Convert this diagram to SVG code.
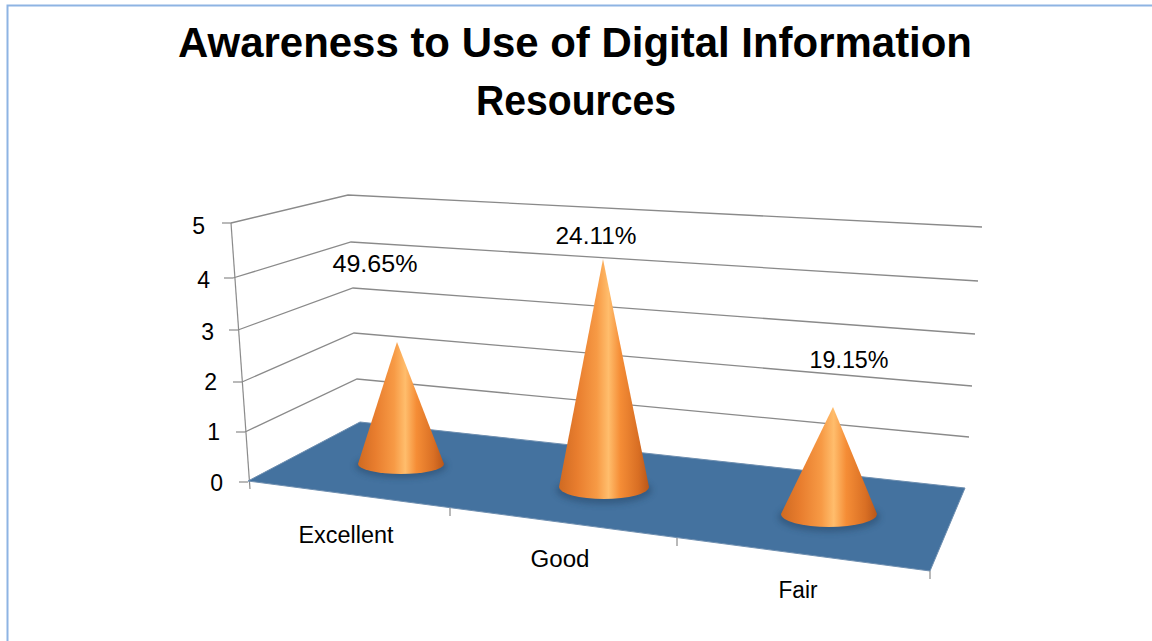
<svg xmlns="http://www.w3.org/2000/svg" width="1152" height="641" viewBox="0 0 1152 641">
<style>
.t{font-family:"Liberation Sans",Arial,sans-serif;fill:#000}
.title{font-size:42px;font-weight:bold}
.lbl{font-size:23px}
.ax{font-size:23px;text-anchor:end}
.grid{stroke:#8a8a8a;stroke-width:1.3;fill:none}
.tick{stroke:#8a8a8a;stroke-width:1.2;fill:none}
.cone{fill:url(#coneGrad)}
</style>
<defs>
<linearGradient id="coneGrad" x1="0" y1="0" x2="1" y2="0">
<stop offset="0" stop-color="#cf6a22"/>
<stop offset="0.2" stop-color="#e87d2e"/>
<stop offset="0.42" stop-color="#f79a45"/>
<stop offset="0.55" stop-color="#ffbd6c"/>
<stop offset="0.68" stop-color="#f58d36"/>
<stop offset="0.88" stop-color="#d96f24"/>
<stop offset="1" stop-color="#b9571a"/>
</linearGradient>
<filter id="shadow" x="-30%" y="-80%" width="160%" height="260%">
<feGaussianBlur stdDeviation="3"/>
</filter>
</defs>
<rect width="1152" height="641" fill="#fff"/>
<path d="M7.5 641 V5.5 H1152" fill="none" stroke="#8eb4e3" stroke-width="2"/>

<g id="title">
<text class="t title" x="575" y="57" text-anchor="middle" textLength="794" lengthAdjust="spacingAndGlyphs">Awareness to Use of Digital Information</text>
<text class="t title" x="576" y="115" text-anchor="middle" textLength="200" lengthAdjust="spacingAndGlyphs">Resources</text>
</g>

<g id="gridlines">
<polyline class="grid" points="231,223 348,195 982,227"/>
<polyline class="grid" points="233,278 351,242 978,281"/>
<polyline class="grid" points="238,330 353,288 975,334"/>
<polyline class="grid" points="242,382 354,333 972,386"/>
<polyline class="grid" points="245,432 357,379 969,437"/>
</g>

<g id="axes">
<line class="tick" x1="231" y1="223" x2="250" y2="489"/>
<line class="tick" x1="222" y1="223" x2="231" y2="223"/>
<line class="tick" x1="224" y1="278" x2="233" y2="278"/>
<line class="tick" x1="229" y1="330" x2="238" y2="330"/>
<line class="tick" x1="233" y1="382" x2="242" y2="382"/>
<line class="tick" x1="236" y1="432" x2="245" y2="432"/>
<line class="tick" x1="239" y1="482" x2="248" y2="482"/>
<text class="t ax" x="205" y="234">5</text>
<text class="t ax" x="210" y="288">4</text>
<text class="t ax" x="214" y="340">3</text>
<text class="t ax" x="217" y="390">2</text>
<text class="t ax" x="220" y="440">1</text>
<text class="t ax" x="223" y="491">0</text>
</g>

<g id="floor">
<polygon points="248,481 360,422 965,488 930,571" fill="#44729f" stroke="#6f8fb0" stroke-width="1"/>
<line class="tick" x1="450" y1="508" x2="450" y2="516"/>
<line class="tick" x1="677" y1="538" x2="677" y2="546"/>
<line class="tick" x1="930" y1="571" x2="930" y2="579"/>
</g>

<g id="cone-excellent">
<ellipse cx="401" cy="466" rx="46" ry="12" fill="#213f5e" opacity="0.45" filter="url(#shadow)"/>
<path class="cone" d="M397 342 L358 464 A43 10 0 0 0 444 464 Z"/>
<text class="t lbl" x="375" y="272" text-anchor="middle" textLength="85" lengthAdjust="spacingAndGlyphs">49.65%</text>
</g>

<g id="cone-good">
<ellipse cx="604" cy="490" rx="48" ry="14" fill="#213f5e" opacity="0.45" filter="url(#shadow)"/>
<path class="cone" d="M603 259 L559 487 A45 12 0 0 0 649 487 Z"/>
<text class="t lbl" x="596" y="244" text-anchor="middle" textLength="81" lengthAdjust="spacingAndGlyphs">24.11%</text>
</g>

<g id="cone-fair">
<ellipse cx="829" cy="517" rx="51" ry="15" fill="#213f5e" opacity="0.45" filter="url(#shadow)"/>
<path class="cone" d="M833 407 L781 514 A48 13 0 0 0 877 514 Z"/>
<text class="t lbl" x="849" y="368" text-anchor="middle" textLength="79" lengthAdjust="spacingAndGlyphs">19.15%</text>
</g>

<g id="categories">
<text class="t lbl" x="346" y="543" text-anchor="middle" textLength="95" lengthAdjust="spacingAndGlyphs">Excellent</text>
<text class="t lbl" x="560" y="567" text-anchor="middle" textLength="59" lengthAdjust="spacingAndGlyphs">Good</text>
<text class="t lbl" x="798" y="598" text-anchor="middle" textLength="39" lengthAdjust="spacingAndGlyphs">Fair</text>
</g>
</svg>
